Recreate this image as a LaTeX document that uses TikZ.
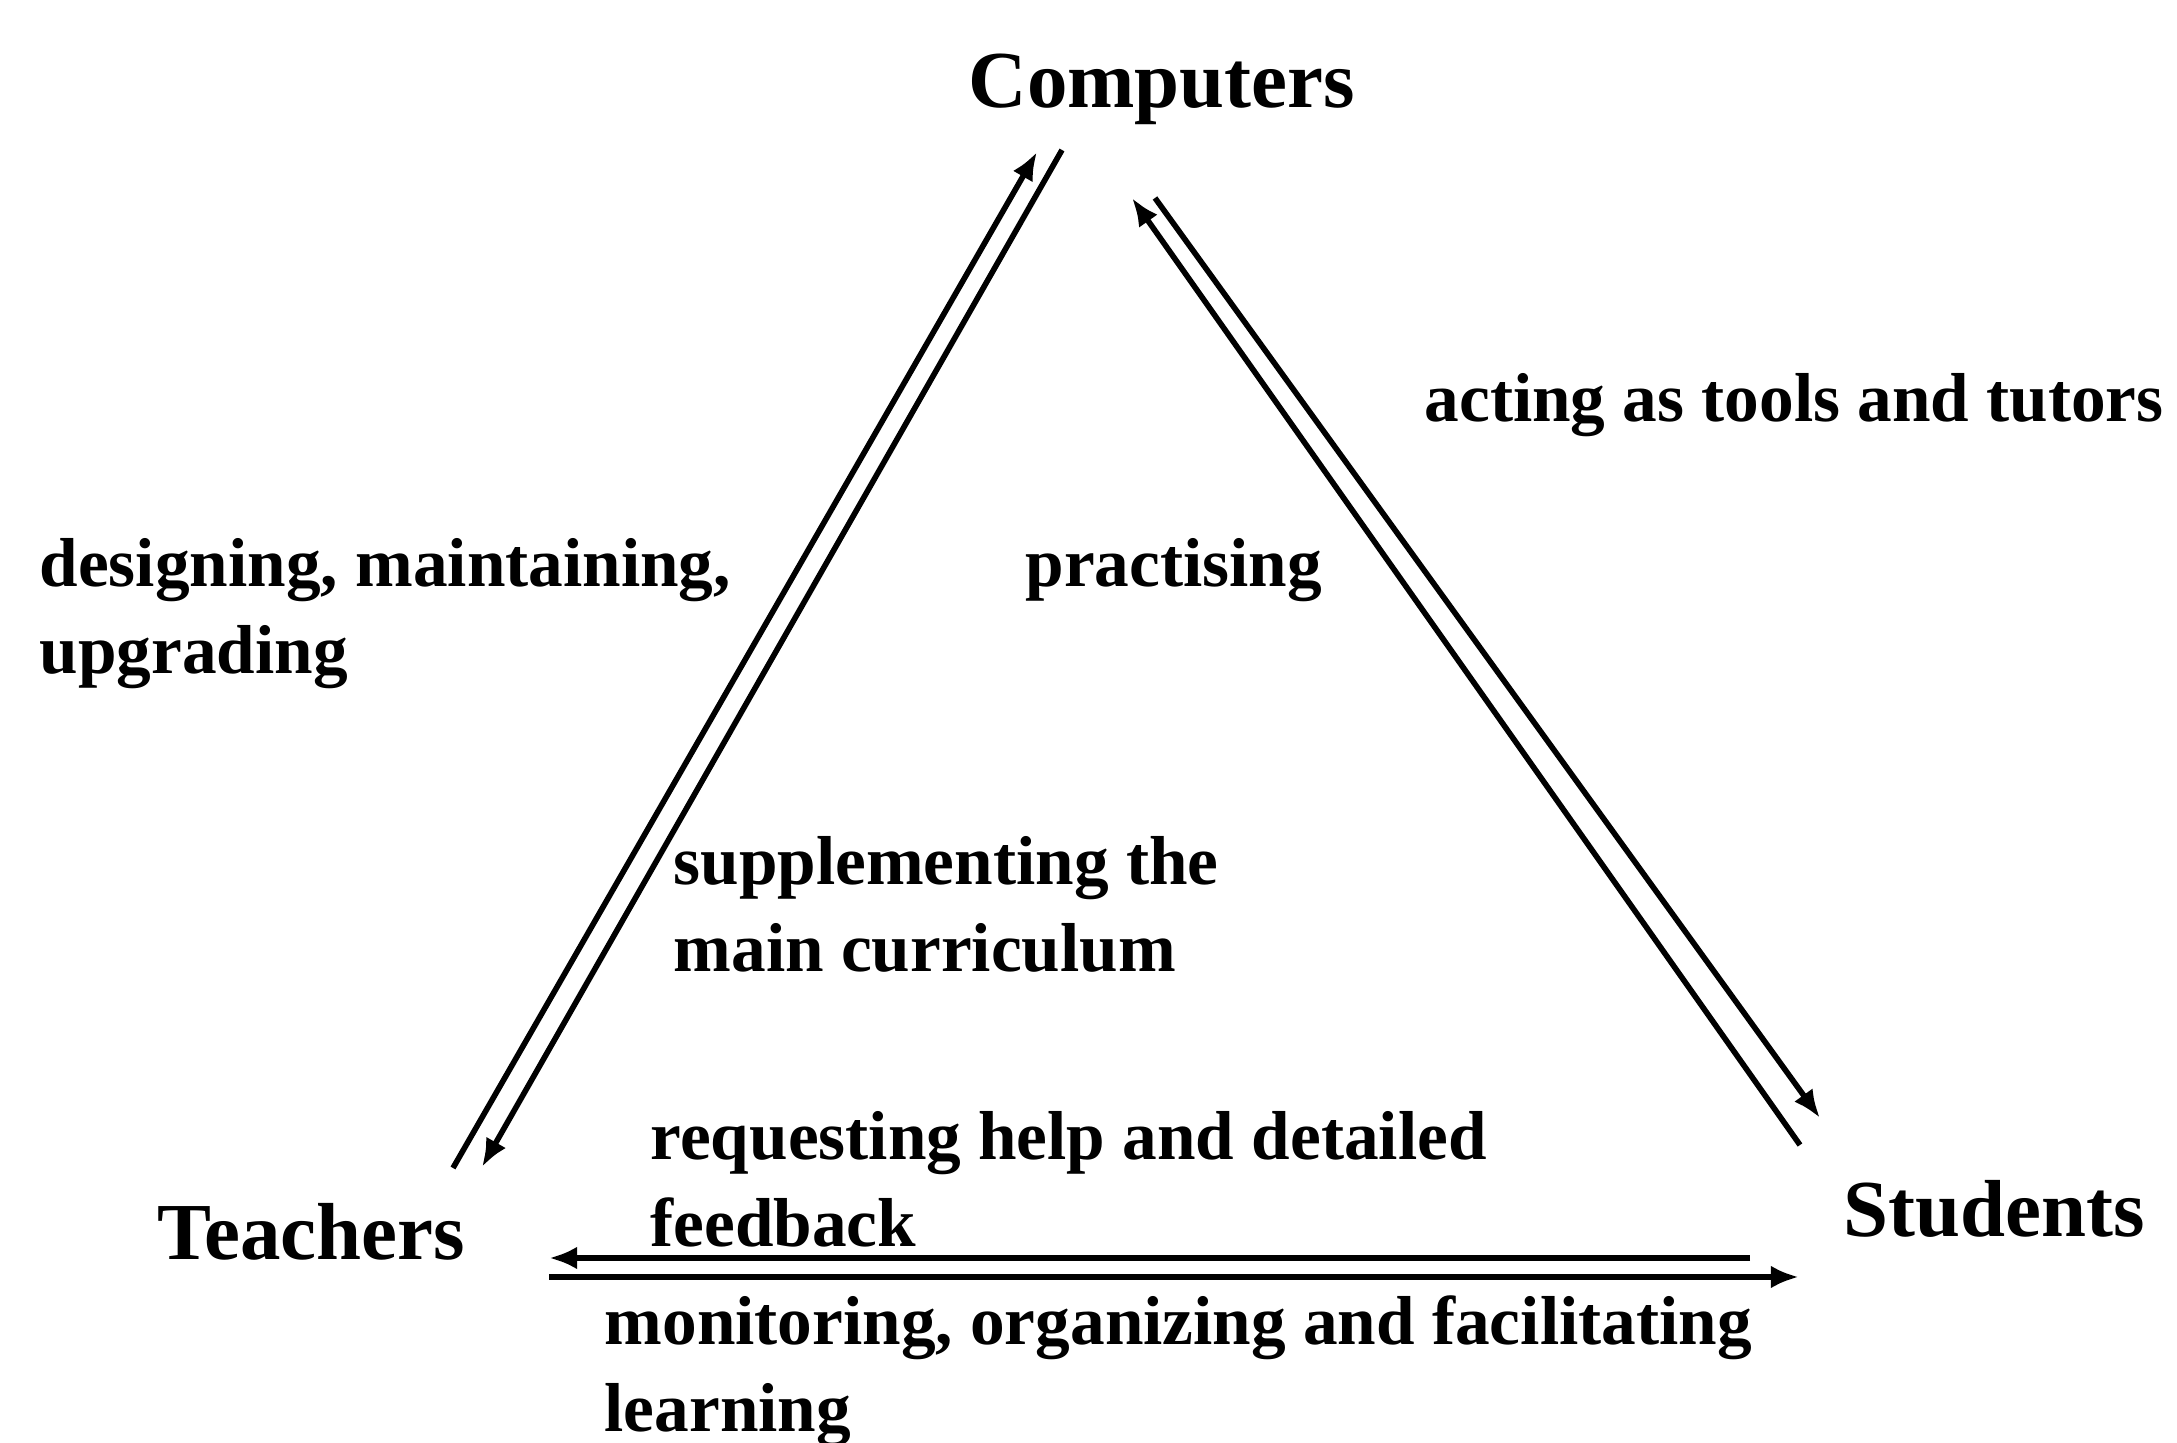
\documentclass[tikz,border=0pt]{standalone}
\usepackage{fontspec}
\setmainfont{Liberation Serif}
\usetikzlibrary{arrows.meta}
\newcommand{\twoline}[2]{\vtop{\hbox{#1}\hbox{#2}}}
\begin{document}
\begin{tikzpicture}[x=0.01cm,y=-0.01cm,
  role/.style={inner sep=0pt,anchor=base west,font=\bfseries\fontsize{23}{28}\selectfont},
  lbl/.style={inner sep=0pt,anchor=base west,font=\bfseries\fontsize{19.7}{24.5}\selectfont},
  link/.style={line width=1.6pt,-{Latex[length=8pt,width=6.5pt]}}]
\useasboundingbox (0,0) rectangle (2177,1443);

% the three parties
\node[role] (comp) at (968,108) {Computers};
\node[role] (teach) at (157,1260) {Teachers};
\node[role] (stud) at (1843,1237) {Students};

% labels on the relations
\node[lbl] (tools) at (1424,422) {acting as tools and tutors};
\node[lbl] (design) at (39,587) {\twoline{designing, maintaining,}{upgrading}};
\node[lbl] (pract) at (1025,587) {practising};
\node[lbl] (suppl) at (673,885) {\twoline{supplementing the}{main curriculum}};
\node[lbl] (req) at (650,1160) {\twoline{requesting help and detailed}{feedback}};
\node[lbl] (mon) at (604,1345) {\twoline{monitoring, organizing and facilitating}{learning}};

% end points of the paired arrows
\coordinate (tcA) at (453,1168);  \coordinate (ctA) at (1037,152);
\coordinate (ctB) at (1062,150);  \coordinate (tcB) at (482,1167);
\coordinate (scA) at (1800,1145); \coordinate (csA) at (1132,198);
\coordinate (csB) at (1155,198);  \coordinate (scB) at (1820,1118);
\coordinate (stA) at (1750,1258); \coordinate (tsA) at (549,1258);
\coordinate (tsB) at (549,1277);  \coordinate (stB) at (1799,1277);

% teachers <-> computers
\draw[link] (tcA) -- (ctA);
\draw[link] (ctB) -- (tcB);
% students <-> computers
\draw[link] (scA) -- (csA);
\draw[link] (csB) -- (scB);
% students <-> teachers
\draw[link] (stA) -- (tsA);
\draw[link] (tsB) -- (stB);
\end{tikzpicture}
\end{document}
